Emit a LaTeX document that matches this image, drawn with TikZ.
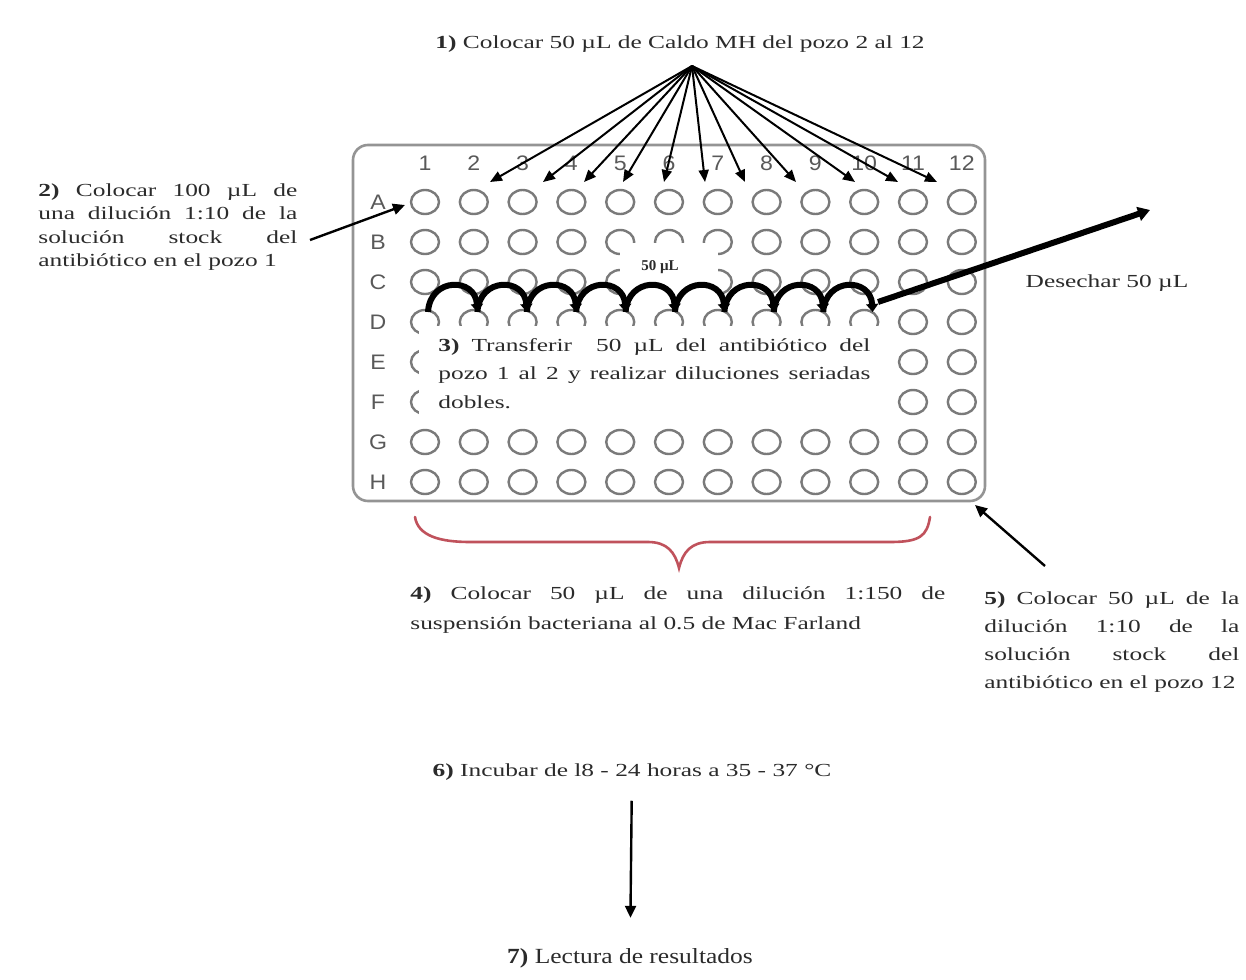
\documentclass[tikz,border=0pt]{standalone}
\usepackage{fontspec}
\setmainfont{Liberation Serif}[FakeStretch=1.38]
\newfontfamily\platefont{Liberation Sans}[FakeStretch=1.1]
\newfontfamily\plainserif{Liberation Serif}
\newfontfamily\sevenfont{Liberation Serif}[FakeStretch=1.18]
\usetikzlibrary{arrows.meta}
\definecolor{txt}{gray}{0.17}
\definecolor{wellgray}{gray}{0.48}
\definecolor{plategray}{gray}{0.58}
\definecolor{labgray}{gray}{0.35}
\definecolor{bracered}{RGB}{192,82,92}
\newcommand{\loosepar}{\tolerance=10000\relax\hbadness=10000\relax}
\tikzset{
  txtblock/.style={inner sep=0pt, text=txt, font=\fontsize{9.2}{11.75}\selectfont},
  justblock/.style={inner sep=0pt, text=txt, anchor=north west, align=justify},
  welldraw/.style={draw=wellgray, line width=1.2pt},
  platelab/.style={inner sep=0pt, text=labgray, font=\platefont\fontsize{10.5}{12}\selectfont},
  fanarrow/.style={draw=black, line width=1pt, -{Triangle[length=6pt,width=5pt]}},
  thinarrow/.style={draw=black, line width=1.2pt, -{Triangle[length=6pt,width=5.5pt]}},
  humpline/.style={draw=black, line width=3pt, -{Triangle[length=4pt,width=6pt]}},
  bigarrow/.style={draw=black, line width=3pt, -{Triangle[length=6pt,width=7pt]}},
}
\begin{document}
\begin{tikzpicture}[x=0.5pt,y=-0.5pt]
\useasboundingbox (0,0) rectangle (1246,979);
\fill[white] (0,0) rectangle (1246,979);

% plate
\draw[draw=plategray, line width=1.3pt, rounded corners=7.5pt] (353,145) rectangle (985,501);

% wells
\foreach \c in {1,...,12}{
  \foreach \r in {0,...,7}{
    \draw[welldraw] ({425+48.8*(\c-1)},{202+40*\r}) ellipse [x radius=7pt, y radius=6pt];
  }
}
% covers (text area and label area)
\fill[white] (419,326) rectangle (893,421);
\fill[white] (620,243) rectangle (718,300);

% column and row labels
\foreach \c in {1,...,12}{
  \node[platelab] (col\c) at ({425+48.8*(\c-1)},163) {\c};
}
\foreach \l [count=\i from 0] in {A,B,C,D,E,F,G,H}{
  \node[platelab] (row\l) at (378,{202+40*\i}) {\l};
}

% texts
\node[txtblock, anchor=center] (t1) at (680,44) {\textbf{1)} Colocar 50 µL de Caldo MH del pozo 2 al 12};

\node[justblock, text width=129.5pt, font=\fontsize{9.2}{11.75}\selectfont] (t2) at (38,183)
  {\loosepar\textbf{2)} Colocar 100 µL de\linebreak una dilución 1:10 de la\linebreak solución stock del\linebreak antibiótico~en~el~pozo~1};

\node[justblock, text width=216pt, font=\fontsize{9.2}{14.25}\selectfont] (t3) at (438,338)
  {\loosepar\textbf{3)} Transferir\ \ 50 µL del antibiótico del\linebreak pozo 1 al 2 y realizar diluciones seriadas\linebreak dobles.};

\node[justblock, text width=267.5pt, font=\fontsize{9.2}{15}\selectfont] (t4) at (410,586)
  {\loosepar\textbf{4)} Colocar 50 µL de una dilución 1:150 de\linebreak suspensión bacteriana al 0.5 de Mac Farland};

\node[justblock, text width=127.5pt, font=\fontsize{9.2}{14}\selectfont] (t5) at (984,591)
  {\loosepar\textbf{5)} Colocar 50 µL de la\linebreak dilución 1:10 de la\linebreak solución stock del\linebreak antibiótico~en~el~pozo~12};

\node[txtblock] (t6) at (632,772) {\textbf{6)} Incubar de l8 - 24 horas a 35 - 37 °C};
\node[inner sep=0pt, text=txt, font=\sevenfont\fontsize{10.8}{13}\selectfont] (t7) at (630,958) {\textbf{7)} Lectura de resultados};

\node[txtblock] (des) at (1107,283) {Desechar 50 µL};
\node[inner sep=0pt, text=txt, font=\plainserif\bfseries\fontsize{7.5}{9}\selectfont] (lab50) at (660,267) {50 µL};

% brace (step 4)
\draw[draw=bracered, line width=1.3pt, line cap=round]
  (415,517) .. controls (418,536) and (440,542) .. (470,542) -- (648,542)
  .. controls (667,542) and (675,552) .. (679,568)
  .. controls (683,552) and (691,542) .. (710,542) -- (890,542)
  .. controls (920,542) and (927,536) .. (930,517);

% fan arrows (step 1)
\coordinate (apex) at (692,66);
\foreach \tx [count=\i] in {490,543,584,623,664,705,745,796,855,898,937}{
  \coordinate (fan\i) at (\tx,182);
  \draw[fanarrow] (apex) -- (fan\i);
}

% arrow step 2
\coordinate (a2s) at (310,240);
\coordinate (a2e) at (405,205);
\draw[thinarrow] (a2s) -- (a2e);

% humps (step 3)
\foreach \k in {0,...,8}{
  \draw[humpline] ({428+49.4*\k},312) .. controls ({430+49.4*\k},277) and ({475.4+49.4*\k},277) .. ({477.4+49.4*\k},312);
}
\coordinate (hEnd) at (878,302);
\coordinate (dTip) at (1150,210);
\draw[bigarrow] (hEnd) -- (dTip);

% arrow step 5
\coordinate (a5s) at (1045,566);
\coordinate (a5e) at (975,505);
\draw[thinarrow] (a5s) -- (a5e);

% arrow 6 -> 7
\draw[thinarrow, shorten <=10pt, shorten >=15pt] (t6) -- (t7);
\end{tikzpicture}
\end{document}
